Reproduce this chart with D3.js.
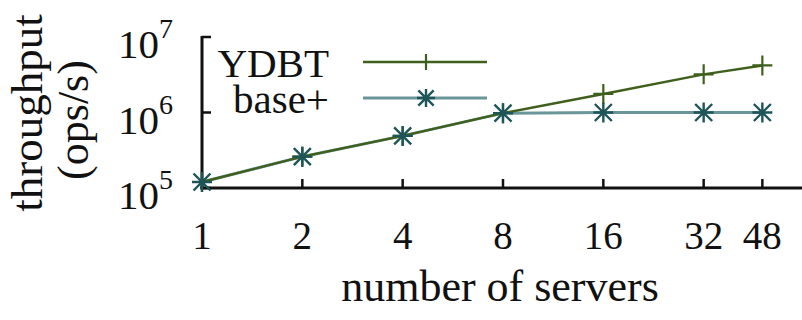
<!DOCTYPE html>
<html>
<head>
<meta charset="utf-8">
<script src="https://cdn.jsdelivr.net/npm/d3@7"></script>
<style>
body { margin: 0; background: #fff; }
svg text { font-family: "Liberation Serif", "Times New Roman", serif; fill: #111; }
</style>
</head>
<body>
<svg id="chart" width="802" height="320"></svg>
<script>
// servers on the x axis, throughput (ops/s)
var servers = [1, 2, 4, 8, 16, 32, 48];
var ydbt = [1.2e5, 2.6e5, 4.9e5, 9.8e5, 1.76e6, 3.2e6, 4.2e6];
var basePlus = [1.2e5, 2.6e5, 4.9e5, 9.8e5, 1.0e6, 1.0e6, 1.0e6];
var yTicks = [5, 6, 7];           // exponents of 10
var seriesNames = ["YDBT", "base+"];

var svg = d3.select("#chart");

var x = d3.scaleLog().base(2).domain([1, 64]).range([202, 804]);
var y = d3.scaleLog().domain([1e5, 1e7]).range([188, 37]);

var colYdbt = "#3f5f1c", colBase = "#6a9599", colBaseMark = "#1d5559";

// axes (left + bottom only)
svg.append("line").attr("x1", x(1)).attr("x2", x(1)).attr("y1", y(1e7) - 1).attr("y2", y(1e5) + 1.5)
    .attr("stroke", "#111").attr("stroke-width", 3);
svg.append("line").attr("x1", x(1) - 1.5).attr("x2", 802).attr("y1", y(1e5)).attr("y2", y(1e5))
    .attr("stroke", "#111").attr("stroke-width", 3);

// y ticks
yTicks.forEach(function(e) {
    var yy = y(Math.pow(10, e));
    svg.append("line").attr("x1", x(1)).attr("x2", x(1) + 9).attr("y1", yy).attr("y2", yy)
        .attr("stroke", "#111").attr("stroke-width", 2.5);
    var t = svg.append("text").attr("x", 173).attr("y", yy + 21).attr("text-anchor", "end")
        .style("font-size", "41px");
    t.append("tspan").text("10");
    t.append("tspan").attr("dy", -20).style("font-size", "28px").text(e);
});

// x ticks
servers.forEach(function(s) {
    svg.append("line").attr("x1", x(s)).attr("x2", x(s)).attr("y1", y(1e5)).attr("y2", y(1e5) - 9)
        .attr("stroke", "#111").attr("stroke-width", 2.5);
    svg.append("text").attr("x", x(s)).attr("y", 249).attr("text-anchor", "middle")
        .style("font-size", "39px").text(s);
});

// axis titles
svg.append("text").attr("x", 500).attr("y", 301).attr("text-anchor", "middle")
    .style("font-size", "44px").text("number of servers");
svg.append("text").attr("transform", "translate(42,113) rotate(-90)").attr("text-anchor", "middle")
    .style("font-size", "45px").text("throughput");
svg.append("text").attr("transform", "translate(88,120) rotate(-90)").attr("text-anchor", "middle")
    .style("font-size", "44px").text("(ops/s)");

var line = d3.line().x(d => x(d[0])).y(d => y(d[1]));
var ptsY = servers.map((s, i) => [s, ydbt[i]]);
var ptsB = servers.map((s, i) => [s, basePlus[i]]);

function plusMark(g, cx, cy, col, r) {
    g.append("path").attr("d", `M${cx - r},${cy}H${cx + r}M${cx},${cy - r}V${cy + r}`)
        .attr("stroke", col).attr("stroke-width", 2.2).attr("fill", "none");
}
function starMark(g, cx, cy, col, r) {
    var d = r * 0.85;
    g.append("path").attr("d", `M${cx - r},${cy}H${cx + r}M${cx},${cy - r}V${cy + r}` +
        `M${cx - d},${cy - d}L${cx + d},${cy + d}M${cx - d},${cy + d}L${cx + d},${cy - d}`)
        .attr("stroke", col).attr("stroke-width", 2.4).attr("fill", "none");
}

svg.append("path").datum(ptsB).attr("d", line).attr("fill", "none").attr("stroke", colBase).attr("stroke-width", 3);
svg.append("path").datum(ptsY).attr("d", line).attr("fill", "none").attr("stroke", colYdbt).attr("stroke-width", 2.4);
var gm = svg.append("g");
ptsY.forEach(p => plusMark(gm, x(p[0]), y(p[1]), colYdbt, 10));
ptsB.forEach(p => starMark(gm, x(p[0]), y(p[1]), colBaseMark, 10));

// legend
var legY = [62, 98];
seriesNames.forEach(function(n, i) {
    svg.append("text").attr("x", 329).attr("y", legY[i] + 15).attr("text-anchor", "end")
        .style("font-size", "41px").text(n);
    svg.append("line").attr("x1", 363).attr("x2", 487).attr("y1", legY[i]).attr("y2", legY[i])
        .attr("stroke", i == 0 ? colYdbt : colBase).attr("stroke-width", i == 0 ? 2.4 : 3);
    if (i == 0) plusMark(svg, 426, legY[i], colYdbt, 8);
    else starMark(svg, 426, legY[i], colBaseMark, 9);
});
</script>
</body>
</html>
